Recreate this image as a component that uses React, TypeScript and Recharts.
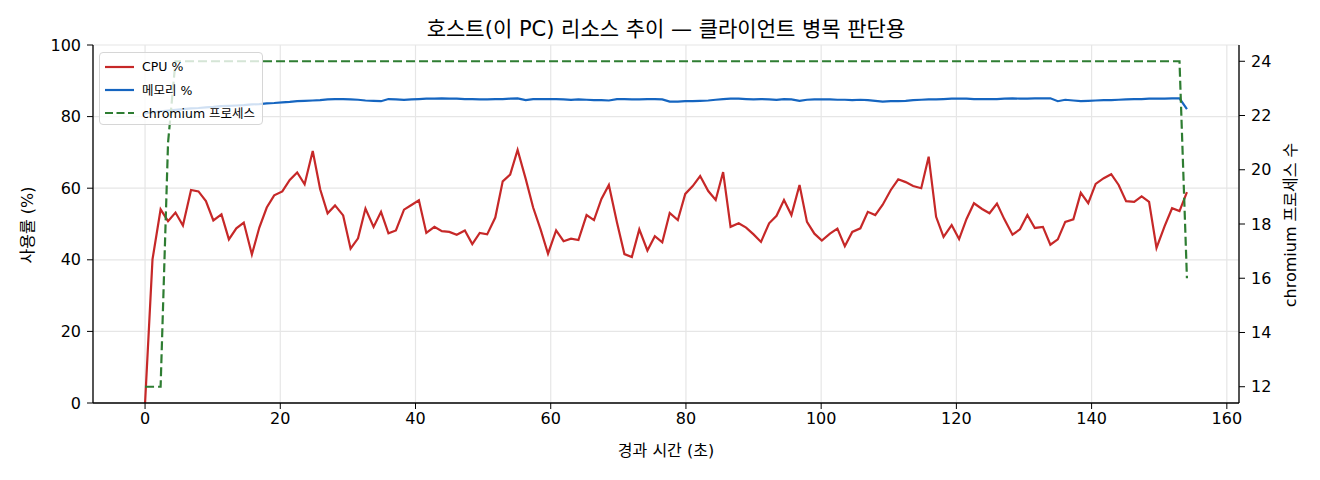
import { LineChart, Line, XAxis, YAxis, CartesianGrid } from 'recharts';

// elapsed seconds per sample
const times = [
  0, 1.1, 2.3, 3.4, 4.5, 5.6, 6.8, 7.9, 9.0, 10.1, 11.3, 12.4, 13.5, 14.6, 15.8, 16.9,
  18.0, 19.1, 20.3, 21.4, 22.5, 23.6, 24.8, 25.9, 27.0, 28.1, 29.3, 30.4, 31.5, 32.6, 33.8, 34.9,
  36.0, 37.1, 38.3, 39.4, 40.5, 41.6, 42.8, 43.9, 45.0, 46.1, 47.3, 48.4, 49.5, 50.6, 51.8, 52.9,
  54.0, 55.1, 56.3, 57.4, 58.5, 59.6, 60.8, 61.9, 63.0, 64.1, 65.3, 66.4, 67.5, 68.6, 69.8, 70.9,
  72.0, 73.1, 74.3, 75.4, 76.5, 77.6, 78.8, 79.9, 81.0, 82.1, 83.3, 84.4, 85.5, 86.6, 87.8, 88.9,
  90.0, 91.1, 92.3, 93.4, 94.5, 95.6, 96.8, 97.9, 99.0, 100.1, 101.3, 102.4, 103.5, 104.6, 105.8, 106.9,
  108.0, 109.1, 110.3, 111.4, 112.5, 113.6, 114.8, 115.9, 117.0, 118.1, 119.3, 120.4, 121.5, 122.6, 123.8, 124.9,
  126.0, 127.1, 128.3, 129.4, 130.5, 131.6, 132.8, 133.9, 135.0, 136.1, 137.3, 138.4, 139.5, 140.6, 141.8, 142.9,
  144.0, 145.1, 146.3, 147.4, 148.5, 149.6, 150.8, 151.9, 153.0, 154.1,
];

const cpuPct = [
  0, 40.1, 54.1, 50.8, 53.2, 49.6, 59.5, 59.1, 56.4, 51.0, 52.7, 45.7, 48.8, 50.4, 41.5, 49.0,
  54.6, 58.0, 59.1, 62.3, 64.4, 61.1, 70.4, 59.7, 53.0, 55.2, 52.4, 43.1, 46.0, 54.3, 49.2, 53.4,
  47.4, 48.2, 54.0, 55.3, 56.6, 47.5, 49.2, 48.0, 47.8, 47.0, 48.2, 44.4, 47.5, 47.1, 51.8, 61.9,
  63.8, 70.7, 62.6, 54.6, 48.5, 41.7, 48.2, 45.2, 45.9, 45.5, 52.5, 51.1, 57.0, 60.9, 50.4, 41.6,
  40.8, 48.5, 42.6, 46.6, 44.9, 53.1, 51.1, 58.4, 60.6, 63.4, 59.2, 56.7, 64.5, 49.2, 50.2, 49.0,
  47.1, 45.0, 50.2, 52.3, 56.7, 52.5, 60.9, 50.6, 47.3, 45.4, 47.3, 48.7, 43.8, 47.8, 48.8, 53.4,
  52.5, 55.4, 59.5, 62.5, 61.7, 60.6, 60.0, 68.8, 52.0, 46.4, 49.7, 45.8, 51.4, 55.8, 54.2, 53.0,
  55.7, 51.3, 47.0, 48.5, 52.5, 48.9, 49.2, 44.2, 45.7, 50.6, 51.3, 58.7, 55.8, 61.2, 62.8, 63.9,
  60.9, 56.4, 56.2, 57.7, 56.2, 43.3, 49.4, 54.4, 53.6, 58.9,
];

const memPct = [
  80.9, 81.2, 81.5, 81.7, 81.9, 82.1, 82.3, 82.4, 82.6, 82.7, 82.9, 83.0, 83.1, 83.2, 83.4, 83.5,
  83.7, 83.8, 84.0, 84.1, 84.3, 84.4, 84.5, 84.6, 84.8, 84.9, 84.9, 84.8, 84.7, 84.5, 84.4, 84.3,
  84.9, 84.8, 84.7, 84.8, 84.9, 85.0, 85.0, 85.1, 85.0, 85.0, 84.9, 84.9, 84.8, 84.8, 84.9, 84.9,
  85.0, 85.1, 84.6, 84.9, 84.9, 84.9, 84.9, 84.8, 84.7, 84.8, 84.7, 84.6, 84.6, 84.5, 84.9, 84.9,
  84.8, 84.8, 84.9, 84.9, 84.8, 84.2, 84.2, 84.3, 84.3, 84.4, 84.5, 84.7, 84.9, 85.0, 85.0, 84.9,
  84.8, 84.9, 84.8, 84.7, 84.9, 84.8, 84.4, 84.7, 84.8, 84.8, 84.8, 84.7, 84.7, 84.6, 84.7, 84.6,
  84.4, 84.2, 84.3, 84.3, 84.4, 84.6, 84.7, 84.8, 84.8, 84.9, 85.0, 85.0, 85.0, 84.9, 84.9, 84.9,
  84.9, 85.0, 85.1, 85.0, 85.0, 85.1, 85.1, 85.1, 84.3, 84.7, 84.5, 84.3, 84.4, 84.5, 84.6, 84.6,
  84.7, 84.8, 84.9, 84.9, 85.0, 85.0, 85.0, 85.1, 85.1, 82.1,
];

const chromiumProcs = [
  12, 12, 12, 21, 24, 24, 24, 24, 24, 24, 24, 24, 24, 24, 24, 24,
  24, 24, 24, 24, 24, 24, 24, 24, 24, 24, 24, 24, 24, 24, 24, 24,
  24, 24, 24, 24, 24, 24, 24, 24, 24, 24, 24, 24, 24, 24, 24, 24,
  24, 24, 24, 24, 24, 24, 24, 24, 24, 24, 24, 24, 24, 24, 24, 24,
  24, 24, 24, 24, 24, 24, 24, 24, 24, 24, 24, 24, 24, 24, 24, 24,
  24, 24, 24, 24, 24, 24, 24, 24, 24, 24, 24, 24, 24, 24, 24, 24,
  24, 24, 24, 24, 24, 24, 24, 24, 24, 24, 24, 24, 24, 24, 24, 24,
  24, 24, 24, 24, 24, 24, 24, 24, 24, 24, 24, 24, 24, 24, 24, 24,
  24, 24, 24, 24, 24, 24, 24, 24, 24, 16,
];

const xTicks = [0, 20, 40, 60, 80, 100, 120, 140, 160];
const leftTicks = [0, 20, 40, 60, 80, 100];
const rightTicks = [12, 14, 16, 18, 20, 22, 24];

const FONT = '"DejaVu Sans", "Noto Sans CJK KR", sans-serif';
const RED = '#c62828';
const BLUE = '#1565c0';
const GREEN = '#2e7d32';
const X_DOMAIN = [-7.7, 161.8];

const rows = times.map((t, i) => ({
  t,
  cpu: cpuPct[i],
  mem: memPct[i],
  proc: chromiumProcs[i],
}));

const legendItems = [
  { label: 'CPU %', color: RED, dash: undefined },
  { label: '메모리 %', color: BLUE, dash: undefined },
  { label: 'chromium 프로세스', color: GREEN, dash: '8 3.5' },
];

function LegendBox() {
  return (
    <div style={{
      position: 'absolute',
      left: 99,
      top: 52,
      width: 164,
      height: 73,
      boxSizing: 'border-box',
      background: 'rgba(255,255,255,0.8)',
      border: '1px solid #d6d6d6',
      borderRadius: 4,
      padding: '2px 0 0 5px',
      fontFamily: FONT,
      fontSize: 12.5,
      color: '#000',
    }}>
      {legendItems.map(item => (
        <div key={item.label} style={{ display: 'flex', alignItems: 'center', height: 23, whiteSpace: 'nowrap' }}>
          <svg width={29} height={6} style={{ marginRight: 8, flexShrink: 0 }}>
            <line x1={0} y1={3} x2={29} y2={3} stroke={item.color} strokeWidth={2.2} strokeDasharray={item.dash} />
          </svg>
          <span>{item.label}</span>
        </div>
      ))}
    </div>
  );
}

const centered = (left: number, top: number, rotate = false): React.CSSProperties => ({
  position: 'absolute',
  left,
  top,
  transform: `translate(-50%, -50%)${rotate ? ' rotate(-90deg)' : ''}`,
  whiteSpace: 'nowrap',
  lineHeight: 1,
});

export default function App() {
  const tick = { fill: '#000', fontSize: 16, fontFamily: FONT };
  const spine = { stroke: '#000', strokeWidth: 1.3 };
  return (
    <div style={{ position: 'absolute', left: 0, top: 0, width: 1320, height: 480, background: '#fff', fontFamily: FONT, color: '#000' }}>
      <div style={{ ...centered(666, 29), fontSize: 21 }}>
        호스트(이 PC) 리소스 추이 — 클라이언트 병목 판단용
      </div>
      <div style={{ ...centered(28, 225, true), fontSize: 16 }}>사용률 (%)</div>
      <div style={{ ...centered(1291, 225, true), fontSize: 16 }}>chromium 프로세스 수</div>
      <div style={{ ...centered(666, 451), fontSize: 16 }}>경과 시간 (초)</div>
      <LineChart width={1320} height={480} data={rows} margin={{ top: 45, right: 0, bottom: 0, left: 0 }}>
        <CartesianGrid yAxisId="left" stroke="#e6e6e6" strokeWidth={1.2} />
        <XAxis
          dataKey="t"
          type="number"
          domain={X_DOMAIN}
          ticks={xTicks}
          allowDataOverflow
          height={77}
          tick={tick}
          tickSize={6}
          tickMargin={4}
          axisLine={spine}
          tickLine={{ stroke: '#000' }}
        />
        <XAxis
          xAxisId="top"
          orientation="top"
          type="number"
          domain={X_DOMAIN}
          allowDataOverflow
          height={0}
          tick={false}
          tickLine={false}
          axisLine={spine}
        />
        <YAxis
          yAxisId="left"
          domain={[0, 100]}
          ticks={leftTicks}
          width={93}
          tick={tick}
          tickSize={6}
          tickMargin={6}
          axisLine={spine}
          tickLine={{ stroke: '#000' }}
        />
        <YAxis
          yAxisId="right"
          orientation="right"
          domain={[11.4, 24.6]}
          ticks={rightTicks}
          allowDataOverflow
          width={81}
          tick={tick}
          tickSize={6}
          tickMargin={6}
          axisLine={spine}
          tickLine={{ stroke: '#000' }}
        />
        <Line yAxisId="left" type="linear" dataKey="cpu" stroke={RED} strokeWidth={2.2} dot={false} isAnimationActive={false} />
        <Line yAxisId="left" type="linear" dataKey="mem" stroke={BLUE} strokeWidth={2.2} dot={false} isAnimationActive={false} />
        <Line yAxisId="right" type="linear" dataKey="proc" stroke={GREEN} strokeWidth={2.2} strokeDasharray="9 4" dot={false} isAnimationActive={false} />
      </LineChart>
      <LegendBox />
    </div>
  );
}
